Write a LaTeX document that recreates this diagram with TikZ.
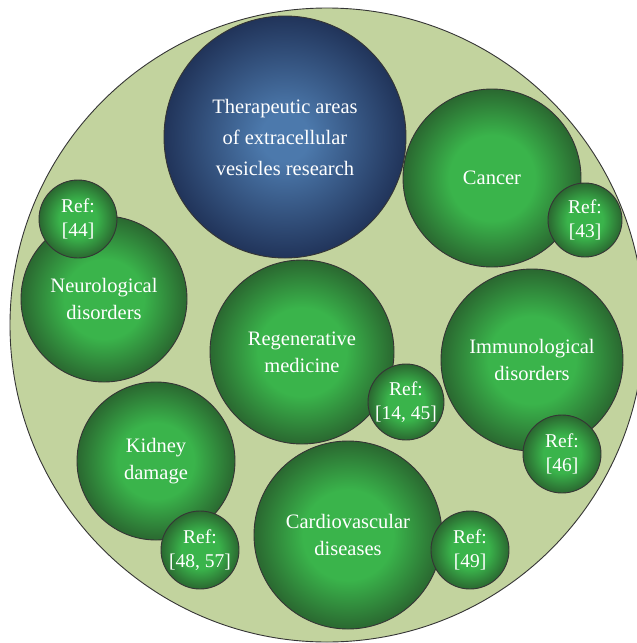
\documentclass[tikz,border=0pt]{standalone}
\usepackage{fontspec}
\setmainfont{Liberation Serif}
\definecolor{bgfill}{HTML}{C2D39E}
\definecolor{rimline}{HTML}{353535}
\definecolor{grnlight}{HTML}{3AB44B}
\definecolor{grndark}{HTML}{2A6830}
\definecolor{bluelight}{HTML}{4C79AC}
\definecolor{bluedark}{HTML}{21345A}
\pgfdeclareradialshading{greenball}{\pgfpointorigin}{color(0bp)=(grnlight); color(12bp)=(grnlight); color(25bp)=(grndark); color(50bp)=(grndark)}
\pgfdeclareradialshading{blueball}{\pgfpointorigin}{color(0bp)=(bluelight); color(5bp)=(bluelight); color(25bp)=(bluedark); color(50bp)=(bluedark)}
\tikzset{
  bubble/.style={circle, draw=rimline, line width=0.9pt, shade, shading=greenball, text=white, align=center, inner sep=-8pt, font=\fontsize{20.5}{27}\selectfont},
  refbubble/.style={bubble, minimum size=78pt, font=\fontsize{19.5}{23.5}\selectfont},
  titlebubble/.style={bubble, shading=blueball, font=\fontsize{20.5}{31}\selectfont}
}

\begin{document}
\begin{tikzpicture}[x=1pt, y=-1pt]
    \useasboundingbox (0,0) rectangle (637,643);
    \node[circle, draw=rimline, line width=0.9pt, fill=bgfill, minimum size=634pt, inner sep=0pt] (field) at (327,325) {};

    \node[titlebubble, minimum size=242pt] (therapy) at (285,137) {Therapeutic areas\\of extracellular\\vesicles research};

    \node[bubble, minimum size=178pt] (cancer) at (492,178) {Cancer};
    \node[refbubble, minimum size=74pt] (ref43) at (585,220) {Ref:\\{[43]}};

    \node[bubble, minimum size=166pt] (neuro) at (104,299) {Neurological\\disorders};
    \node[refbubble] (ref44) at (78,219) {Ref:\\{[44]}};

    \node[bubble, minimum size=184pt] (regen) at (302,352) {Regenerative\\medicine};
    \node[refbubble, minimum size=76pt] (ref1445) at (406,402) {Ref:\\{[14, 45]}};

    \node[bubble, minimum size=182pt] (immuno) at (532,360) {Immunological\\disorders};
    \node[refbubble] (ref46) at (562,454) {Ref:\\{[46]}};

    \node[bubble, minimum size=158pt] (kidney) at (156,461) {Kidney\\damage};
    \node[refbubble] (ref4857) at (200,550) {Ref:\\{[48, 57]}};

    \node[bubble, minimum size=188pt] (cardio) at (348,535) {Cardiovascular\\diseases};
    \node[refbubble] (ref49) at (470,550) {Ref:\\{[49]}};
\end{tikzpicture}
\end{document}
